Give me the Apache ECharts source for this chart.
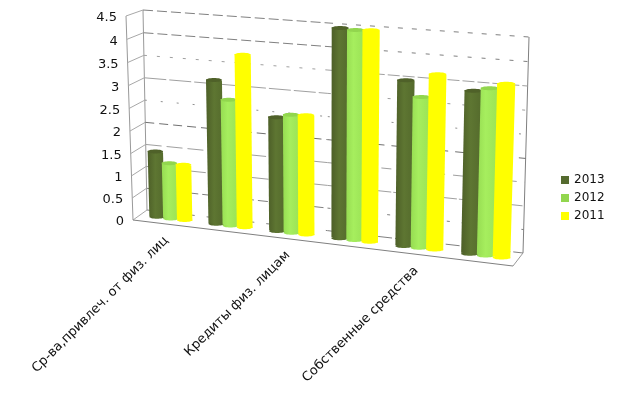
<!DOCTYPE html>
<html><head><meta charset="utf-8">
<script src="https://cdn.jsdelivr.net/npm/echarts@6/dist/echarts.min.js"></script>
<style>html,body{margin:0;background:#fff}#c{width:617px;height:395px}</style>
</head><body><div id="c"></div>
<script>
const categories = ['Ср-ва,привлеч. от физ. лиц','','Кредиты физ. лицам','','Собственные средства',''];
const yTicks = [0,0.5,1,1.5,2,2.5,3,3.5,4,4.5];
const values2013 = [1.48,3.18,2.5,4.5,3.52,3.42];
const values2012 = [1.25,2.78,2.58,4.48,3.2,3.5];
const values2011 = [1.25,3.78,2.6,4.5,3.7,3.62];

// 3D box corners on screen: [bottom-left, bottom-right, top-right, top-left]
const backQuad  = [[147,210],[523,253],[529,37],[143,10]];
const frontQuad = [[133,220],[513,266],[520,46],[126,16]];
function homography(q){
  const [p0,p1,p2,p3]=q;
  const dx1=p1[0]-p2[0],dx2=p3[0]-p2[0],sx=p0[0]-p1[0]+p2[0]-p3[0];
  const dy1=p1[1]-p2[1],dy2=p3[1]-p2[1],sy=p0[1]-p1[1]+p2[1]-p3[1];
  const den=dx1*dy2-dx2*dy1;
  const g=(sx*dy2-dx2*sy)/den,h=(dx1*sy-sx*dy1)/den;
  const a=p1[0]-p0[0]+g*p1[0],b=p3[0]-p0[0]+h*p3[0],c=p0[0];
  const d=p1[1]-p0[1]+g*p1[1],e=p3[1]-p0[1]+h*p3[1],f=p0[1];
  return (u,t)=>{const w=g*u+h*t+1;return [(a*u+b*t+c)/w,(d*u+e*t+f)/w];};
}
const lerpQuad=d=>backQuad.map((p,i)=>[p[0]+(frontQuad[i][0]-p[0])*d+1.5,p[1]+(frontQuad[i][1]-p[1])*d]);
const backP=homography(backQuad), frontP=homography(frontQuad), midP=homography(lerpQuad(0.5));

function norm(api,params,x,y){
  const r=params.coordSys, c=api.coord([x,y]);
  return [(c[0]-r.x)/r.width,(r.y+r.height-c[1])/r.height];
}
const FONT='DejaVu Sans';
const LINE='#8a8a8a';
// the reference's stippled wall lines: [left-half dash, right-half dash, colour]
const dashes={
  0:[[3,12],[14,3],'#808080'],0.5:[[10,4],[3,12],'#808080'],1:[[18,3],[20,2],'#a0a0a0'],
  1.5:[[16,5],[10,8],'#a0a0a0'],2:[[9,5],[9,7],'#707070'],2.5:[[2,14],[2,14],'#909090'],
  3:[[22,3],[3,12],'#a0a0a0'],3.5:[[3,10],[12,3],'#a0a0a0'],4:[[10,4],[4,10],'#808080'],4.5:[[10,4],[5,9],'#808080']};
const seg=(a,b,st)=>({type:'line',shape:{x1:a[0],y1:a[1],x2:b[0],y2:b[1]},style:Object.assign({stroke:LINE,lineWidth:1,fill:null},st||{})});

function renderGrid(params,api){
  const v=api.value(0), t=norm(api,params,0,v)[1];
  const d=dashes[v];
  const kids=[
    seg(backP(0,t),backP(0.5,t),{stroke:d[2],lineDash:d[0]}),
    seg(backP(0.5,t),backP(1,t),{stroke:d[2],lineDash:d[1]}),
    seg(frontP(0,t),backP(0,t),{stroke:'#a8a8a8'})
  ];
  if(v===0){
    kids.push(seg(frontP(0,0),frontP(1,0),{stroke:'#808080'}));
    kids.push(seg(frontP(1,0),backP(1,0),{stroke:'#999'}));
    kids.push(seg(backP(0,0),backP(0,1),{stroke:'#999'}));
    kids.push(seg(frontP(0,0),frontP(0,1),{stroke:'#999'}));
    kids.push(seg(backP(1,0),backP(1,1),{stroke:'#808080'}));
  }
  const f=frontP(0,t);
  kids.push({type:'text',x:f[0]-9,y:f[1]+2,style:{text:String(v),align:'right',verticalAlign:'middle',fill:'#111',font:'13px "'+FONT+'"'}});
  return {type:'group',children:kids};
}
function renderCat(params,api){
  const i=api.value(0), u=norm(api,params,i,0)[0];
  const p=frontP(u,0);
  return {type:'text',x:p[0]+4,y:p[1]+15,rotation:Math.PI/4,
    style:{text:categories[i],align:'right',verticalAlign:'middle',fill:'#111',font:'13px "'+FONT+'"'}};
}
function barRenderer(offset,stops,capColor){
  const half=0.13;
  return function(params,api){
    const i=api.value(0), val=api.value(1);
    const n=norm(api,params,i,val);
    const du=offset/categories.length, hw=half/categories.length;
    const u=n[0]+du;
    const bl=midP(u-hw,0),br=midP(u+hw,0),tl=midP(u-hw,n[1]),tr=midP(u+hw,n[1]);
    const ry=2;
    const grad=new echarts.graphic.LinearGradient(0,0,1,0,stops);
    const rxT=(tr[0]-tl[0])/2, rxB=(br[0]-bl[0])/2;
    return {type:'group',children:[
      {type:'ellipse',shape:{cx:(bl[0]+br[0])/2,cy:(bl[1]+br[1])/2,rx:rxB,ry:ry},style:{fill:grad}},
      {type:'polygon',shape:{points:[bl,tl,tr,br]},style:{fill:grad}},
      {type:'ellipse',shape:{cx:(tl[0]+tr[0])/2,cy:(tl[1]+tr[1])/2,rx:rxT,ry:ry},style:{fill:capColor}}
    ]};
  };
}
const toRows=a=>a.map((v,i)=>[i,v]);
const chart=echarts.init(document.getElementById('c'),null,{renderer:'canvas'});
chart.setOption({
  animation:false,
  backgroundColor:'#fff',
  grid:{left:130,right:100,top:16,bottom:170},
  xAxis:{type:'category',data:categories,show:false},
  yAxis:{type:'value',min:0,max:4.5,interval:0.5,show:false},
  legend:{orient:'vertical',left:556,top:169,icon:'rect',itemWidth:8,itemHeight:8,itemGap:6,
    data:['2013','2012','2011'],selectedMode:false,
    textStyle:{fontFamily:FONT,fontSize:12,color:'#111'}},
  series:[
    {type:'custom',name:'grid',coordinateSystem:'cartesian2d',silent:true,clip:false,z:1,renderItem:renderGrid,
      data:yTicks.map(v=>[v]),encode:{y:0}},
    {type:'custom',name:'cats',coordinateSystem:'cartesian2d',silent:true,clip:false,z:1,renderItem:renderCat,
      data:categories.map((c,i)=>[i,c]).filter(r=>r[1]).map(r=>[r[0],0]),encode:{x:0,y:1}},
    {type:'custom',name:'2013',coordinateSystem:'cartesian2d',clip:false,z:2,itemStyle:{color:'#556b2f'},
      renderItem:barRenderer(-0.235,[{offset:0,color:'#4d5f28'},{offset:0.45,color:'#5e7632'},{offset:1,color:'#546a2c'}],'#4f6129'),
      data:toRows(values2013),encode:{x:0,y:1}},
    {type:'custom',name:'2012',coordinateSystem:'cartesian2d',clip:false,z:3,itemStyle:{color:'#92d64e'},
      renderItem:barRenderer(0,[{offset:0,color:'#96dc52'},{offset:0.4,color:'#a6ee5e'},{offset:1,color:'#9ae256'}],'#92d64e'),
      data:toRows(values2012),encode:{x:0,y:1}},
    {type:'custom',name:'2011',coordinateSystem:'cartesian2d',clip:false,z:4,itemStyle:{color:'#ffff00'},
      renderItem:barRenderer(0.235,[{offset:0,color:'#ffff00'},{offset:1,color:'#ffff00'}],'#ffff00'),
      data:toRows(values2011),encode:{x:0,y:1}}
  ]
});
</script></body></html>
